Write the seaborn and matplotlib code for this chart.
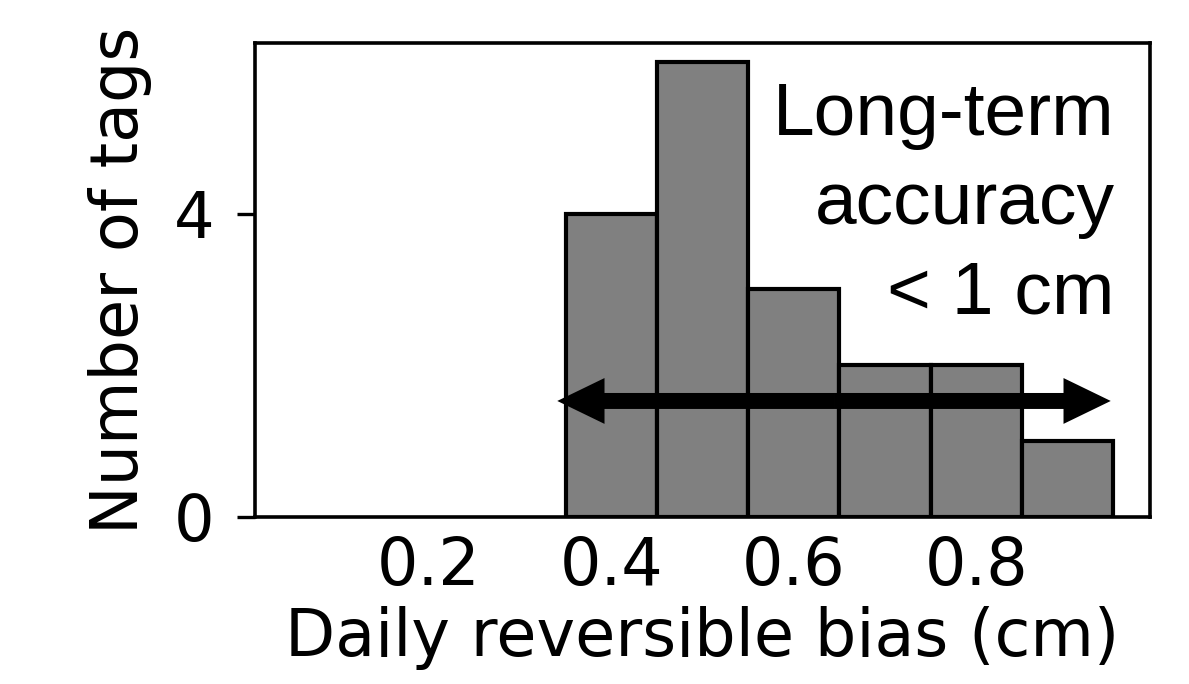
import matplotlib
matplotlib.use('Agg')
import matplotlib.pyplot as plt
import seaborn as sns

# histogram of daily reversible bias per tag
bin_centers = [0.4, 0.5, 0.6, 0.7, 0.8, 0.9]
tag_counts = [4, 6, 3, 2, 2, 1]
bin_width = 0.1
x_ticks = [0.2, 0.4, 0.6, 0.8]
y_ticks = [0, 4]
x_label = 'Daily reversible bias (cm)'
y_label = 'Number of tags'
note = 'Long-term\naccuracy\n< 1 cm'

sns.set_theme(style='ticks')
plt.rcParams['font.family'] = ['DejaVu Sans']
plt.rcParams['text.color'] = 'black'
plt.rcParams['axes.labelcolor'] = 'black'
plt.rcParams['xtick.color'] = 'black'
plt.rcParams['ytick.color'] = 'black'

edges = [c - bin_width / 2 for c in bin_centers] + [bin_centers[-1] + bin_width / 2]

fig = plt.figure(figsize=(11.89, 6.84), dpi=100)
ax = fig.add_axes([255 / 1189, 1 - 517 / 684, 895 / 1189, 474 / 684])

sns.histplot(x=bin_centers, weights=tag_counts, bins=edges, ax=ax,
             color='#808080', edgecolor='black', linewidth=3, alpha=1)

ax.set_xlim(0.01, 0.99)
ax.set_ylim(0, 6.25)
ax.set_xticks(x_ticks)
ax.set_yticks(y_ticks)
ax.tick_params(axis='x', length=0, pad=13, labelsize=47)
ax.tick_params(axis='y', length=13, width=2.4, pad=16, labelsize=46)
for s in ax.spines.values():
    s.set_linewidth(2.6)
    s.set_color('black')
ax.set_xlabel(x_label, fontsize=47, labelpad=5)
ax.set_ylabel(y_label, fontsize=47, labelpad=16)

# double-headed arrow: two simple arrows from the middle
mid = (0.341 + 0.947) / 2
for end in (0.341, 0.947):
    ax.annotate('', xy=(end, 1.53), xytext=(mid, 1.53),
                arrowprops=dict(arrowstyle='simple,head_length=34,head_width=33,tail_width=11.5',
                                mutation_scale=1, color='black', lw=0,
                                shrinkA=0, shrinkB=0))

ax.text(0.951, 0.92, note, transform=ax.get_xaxis_transform(), ha='right', va='top',
        fontsize=54, family=['Liberation Sans', 'DejaVu Sans'], linespacing=1.38,
        color='black')

fig.savefig('out.png', dpi=100)
